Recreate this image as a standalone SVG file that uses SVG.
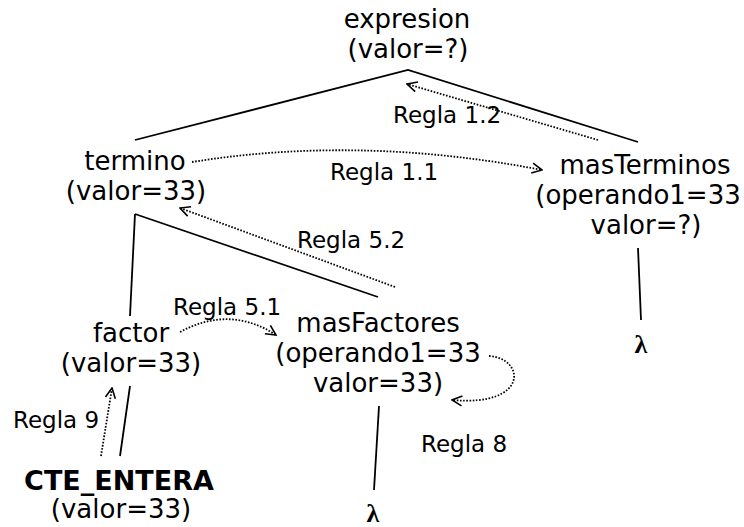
<svg xmlns="http://www.w3.org/2000/svg" width="744" height="527" viewBox="0 0 744 527">
<defs>
<marker id="arr" viewBox="0 0 12 12" refX="11" refY="6" markerWidth="12" markerHeight="12" markerUnits="userSpaceOnUse" orient="auto">
<path d="M1,1 L11,6 L1,11" fill="none" stroke="#000" stroke-width="1.6"/>
</marker>
<style>
.n{font-family:"DejaVu Sans",Verdana,sans-serif;font-size:26px;fill:#000;text-anchor:middle}
.b{font-weight:bold;font-size:27px}
.l{font-family:"DejaVu Sans",Verdana,sans-serif;font-size:23px;fill:#000}
.lam{font-family:"Liberation Serif","DejaVu Serif",serif;font-weight:bold;font-size:26px;text-anchor:middle}
.e{stroke:#000;stroke-width:1.8;fill:none}
.d{stroke:#000;stroke-width:1.8;fill:none;stroke-dasharray:1.6,1.6;marker-end:url(#arr)}
</style>
</defs>
<g id="edges">
<path class="e" d="M135,140 L408,70 L638,142"/>
<path class="e" d="M135,214 L130,316"/>
<path class="e" d="M135,214 L378,297"/>
<path class="e" d="M130,386 L120,456"/>
<path class="e" d="M379,406 L374,490"/>
<path class="e" d="M638,248 L641,320"/>
</g>
<g id="rules">
<path class="d" d="M598,140 L407,84"/>
<text class="l" x="393" y="123">Regla 1.2</text>
<path class="d" d="M192,162 Q360,135 542,170"/>
<text class="l" x="330" y="180">Regla 1.1</text>
<path class="d" d="M395,287 L180,208"/>
<text class="l" x="297" y="248">Regla 5.2</text>
<path class="d" d="M180,332 Q230,305 276,335"/>
<text class="l" x="173" y="315">Regla 5.1</text>
<path class="d" d="M489,356 C525,358 530,407 452,400"/>
<text class="l" x="421" y="452">Regla 8</text>
<path class="d" d="M101,456 L112,388"/>
<text class="l" x="13" y="428">Regla 9</text>
</g>
<g id="expresion">
<text class="n" x="407" y="28">expresion</text>
<text class="n" x="408" y="58">(valor=?)</text>
</g>
<g id="termino">
<text class="n" x="135" y="170">termino</text>
<text class="n" x="136" y="200">(valor=33)</text>
</g>
<g id="masTerminos">
<text class="n" x="645" y="174">masTerminos</text>
<text class="n" x="638" y="204">(operando1=33</text>
<text class="n" x="646" y="234">valor=?)</text>
</g>
<g id="lambda1">
<text class="lam" x="641" y="353">λ</text>
</g>
<g id="factor">
<text class="n" x="131" y="342">factor</text>
<text class="n" x="131" y="372">(valor=33)</text>
</g>
<g id="masFactores">
<text class="n" x="378" y="332">masFactores</text>
<text class="n" x="378" y="362">(operando1=33</text>
<text class="n" x="378" y="392">valor=33)</text>
</g>
<g id="lambda2">
<text class="lam" x="373" y="522">λ</text>
</g>
<g id="cte">
<text class="n b" x="119" y="490">CTE_ENTERA</text>
<text class="n" x="121" y="518">(valor=33)</text>
</g>
</svg>
